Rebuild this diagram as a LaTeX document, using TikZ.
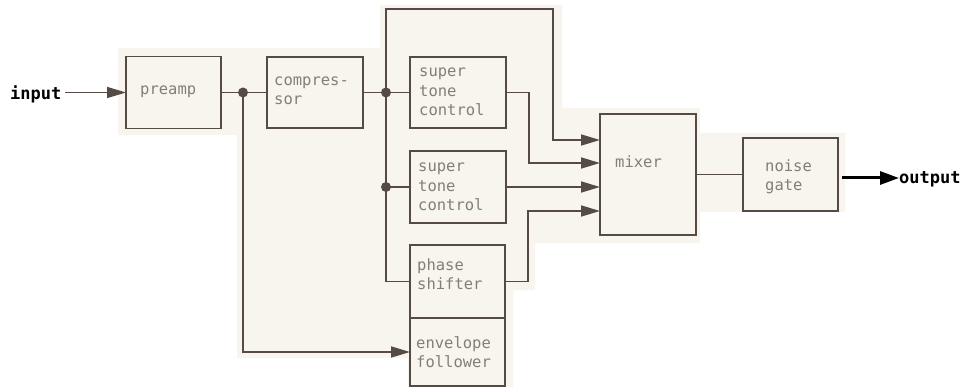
\documentclass[tikz,border=0pt]{standalone}
\usepackage{fontspec}
\newfontfamily\monof{DejaVu Sans Mono}
\usetikzlibrary{arrows.meta}
\definecolor{cream}{HTML}{F7F5EE}
\definecolor{ink}{HTML}{554A46}
\definecolor{txt}{HTML}{857D78}
\begin{document}
\begin{tikzpicture}[x=1pt,y=-1pt,
  blk/.style={draw=ink, line width=1.8pt, fill=cream, inner sep=0pt, outer sep=0pt},
  lbl/.style={font=\monof\fontsize{15.5}{19.5}\selectfont, text=txt, inner sep=0pt, align=left, anchor=west},
  io/.style={font=\monof\bfseries\fontsize{17}{19}\selectfont, text=black, inner sep=0pt, anchor=base west},
  wire/.style={draw=ink, line width=1.6pt},
  tip/.style={-{Triangle[length=19pt,width=11pt]}},
  dot/.style={fill=ink}]
\useasboundingbox (0,0) rectangle (965,387);
\fill[white] (0,0) rectangle (965,387);
\fill[cream] (118,48) -- (380,48) -- (380,5) -- (562,5) -- (562,108) -- (700,108) -- (700,133)
  -- (845,133) -- (845,212) -- (700,212) -- (700,243) -- (535,243) -- (535,290) -- (513,290)
  -- (513,387) -- (408,387) -- (408,358) -- (237,358) -- (237,135) -- (118,135) -- cycle;

% boxes
\node[blk, minimum width=95pt, minimum height=72pt] (pre) at (173.5,92.5) {};
\node[blk, minimum width=96pt, minimum height=71pt] (comp) at (315,92.5) {};
\node[blk, minimum width=96pt, minimum height=71pt] (tone1) at (458,92.5) {};
\node[blk, minimum width=96pt, minimum height=72pt] (tone2) at (458,187) {};
\node[blk, minimum width=95pt, minimum height=73pt] (phase) at (457.5,281.5) {};
\node[blk, minimum width=95pt, minimum height=68pt] (env) at (457.5,352) {};
\node[blk, minimum width=96pt, minimum height=121pt] (mix) at (648,174.5) {};
\node[blk, minimum width=95pt, minimum height=73pt] (gate) at (790.5,174.5) {};

% labels
\node[lbl] (tpre) at (140,92) {preamp};
\node[lbl] (tcomp) at (274,91) {compres-\\sor};
\node[lbl] (ttone1) at (419,92) {super\\tone\\control};
\node[lbl] (ttone2) at (418,187) {super\\tone\\control};
\node[lbl] (tphase) at (417,274) {phase\\shifter};
\node[lbl] (tenv) at (416,352) {envelope\\follower};
\node[lbl] (tmix) at (615,162) {mixer};
\node[lbl] (tgate) at (765,177) {noise\\gate};
\node[io] (inp) at (10,100) {input};
\node[io] (outp) at (899,184) {output};

% junctions and corners
\coordinate (d1) at (243,92.5);
\coordinate (d2) at (386,92.5);
\coordinate (d3) at (386,187);
\coordinate (c1) at (553,9);
\coordinate (k1) at (529,163);
\coordinate (k2) at (528,211);
\coordinate (m1) at (600,140);
\coordinate (m2) at (600,163);
\coordinate (m3) at (600,187);
\coordinate (m4) at (600,211);
\coordinate (ia) at (65,92.5);
\coordinate (oa) at (842,178);

% connectors
\draw[wire, tip] (ia) -- (pre.west);
\draw[wire] (pre.east) -- (comp.west);
\draw[wire] (comp.east) -- (tone1.west);
\draw[wire, tip] (d2) |- (c1) |- (m1);
\draw[wire] (d2) |- (phase.west);
\draw[wire] (d3) -- (tone2.west);
\draw[wire, tip] (tone1.east) -| (k1) -- (m2);
\draw[wire, tip] (tone2.east) -- (m3);
\draw[wire, tip] (phase.east) -| (k2) -- (m4);
\draw[wire, tip] (d1) |- (env.west);
\draw[wire] (mix.east) -- (gate.west);
\draw[line width=3pt, black, -{Triangle[length=19pt,width=13pt]}] (oa) -- (outp.west |- oa);

\fill[dot] (d1) circle (5);
\fill[dot] (d2) circle (5);
\fill[dot] (d3) circle (5);
\end{tikzpicture}
\end{document}
